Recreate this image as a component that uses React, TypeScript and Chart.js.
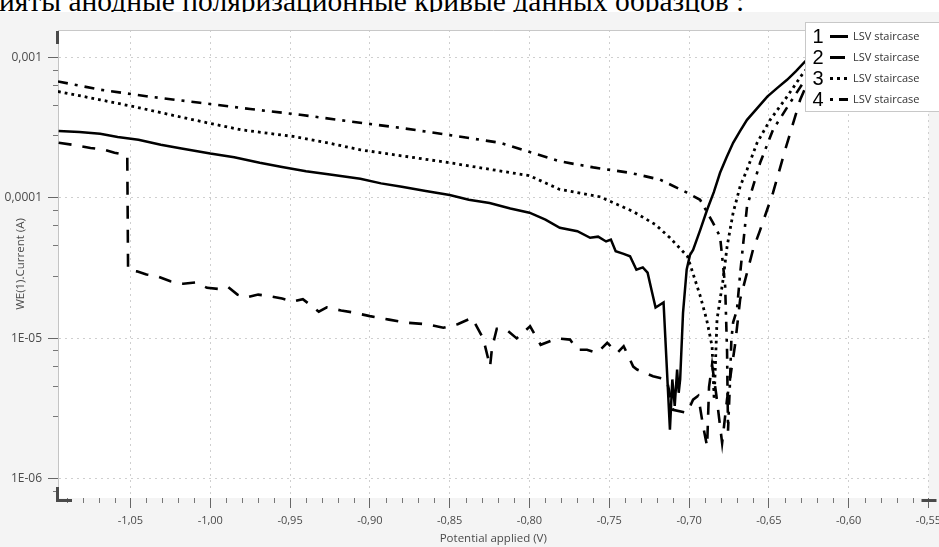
import React, { useEffect, useRef } from 'react';
import { Chart, registerables } from 'chart.js';

Chart.register(...registerables);

const headerText = 'ияты анодные поляризационные кривые данных образцов :';
const xAxisTitle = 'Potential applied (V)';
const yAxisTitle = 'WE(1).Current (A)';
const legendNumbers = ['1', '2', '3', '4'];
const seriesNames = ['LSV staircase', 'LSV staircase', 'LSV staircase', 'LSV staircase'];

const xTickValues = [-1.05, -1.0, -0.95, -0.9, -0.85, -0.8, -0.75, -0.7, -0.65, -0.6, -0.55];
const xTickLabels = ['-1,05', '-1,00', '-0,95', '-0,90', '-0,85', '-0,80', '-0,75', '-0,70', '-0,65', '-0,60', '-0,55'];
const yTickValues = [1e-6, 1e-5, 1e-4, 1e-3];
const yTickLabels = ['1E-06', '1E-05', '0,0001', '0,001'];
const yMinorFactors = [0.28, 0.46, 0.64, 0.82];
const xRange = [-1.0954, -0.55];
const yRange = [7.3e-7, 1.57e-3];

// Series 1 (solid)
const s1Potential = [-1.095, -1.082, -1.069, -1.058, -1.045, -1.031, -1.018, -1.0, -0.985, -0.969, -0.955, -0.94, -0.925, -0.906, -0.893, -0.88, -0.865, -0.85, -0.838, -0.825, -0.812, -0.8, -0.79, -0.781, -0.77, -0.762, -0.757, -0.752, -0.749, -0.746, -0.741, -0.737, -0.733, -0.729, -0.726, -0.7235, -0.721, -0.716, -0.712, -0.7105, -0.709, -0.7075, -0.7065, -0.7056, -0.7038, -0.7015, -0.6994, -0.6975, -0.693, -0.6887, -0.6845, -0.6806, -0.6765, -0.6724, -0.668, -0.6637, -0.657, -0.651, -0.6445, -0.6386, -0.633, -0.6273, -0.621];
const s1Current = [3.0e-4, 2.95e-4, 2.86e-4, 2.72e-4, 2.6e-4, 2.39e-4, 2.25e-4, 2.07e-4, 1.95e-4, 1.78e-4, 1.66e-4, 1.55e-4, 1.47e-4, 1.37e-4, 1.27e-4, 1.2e-4, 1.12e-4, 1.05e-4, 9.7e-5, 9.2e-5, 8.4e-5, 7.85e-5, 7.0e-5, 6.13e-5, 5.8e-5, 5.2e-5, 5.3e-5, 4.9e-5, 5.05e-5, 4.17e-5, 4.0e-5, 3.84e-5, 3.08e-5, 3.2e-5, 2.94e-5, 2.2e-5, 1.66e-5, 1.8e-5, 2.24e-6, 5.1e-6, 3.3e-6, 6.0e-6, 4.1e-6, 5.1e-6, 1.52e-5, 3.1e-5, 3.94e-5, 4.27e-5, 5.93e-5, 8.24e-5, 1.1e-4, 1.51e-4, 1.95e-4, 2.47e-4, 3.0e-4, 3.6e-4, 4.4e-4, 5.27e-4, 6.1e-4, 6.94e-4, 8.0e-4, 9.37e-4, 1.05e-3];

// Series 2 (long dash)
const s2Potential = [-1.095, -1.085, -1.075, -1.066, -1.06, -1.054, -1.052, -1.0515, -1.046, -1.04, -1.033, -1.025, -1.017, -1.009, -1.002, -0.995, -0.989, -0.983, -0.978, -0.97, -0.963, -0.955, -0.948, -0.942, -0.937, -0.932, -0.927, -0.918, -0.9105, -0.9, -0.888, -0.876, -0.864, -0.854, -0.845, -0.836, -0.829, -0.8247, -0.8235, -0.8205, -0.8143, -0.808, -0.7996, -0.793, -0.7825, -0.7746, -0.77, -0.764, -0.7576, -0.7513, -0.745, -0.741, -0.735, -0.7326, -0.7226, -0.714, -0.71, -0.7012, -0.6975, -0.6943, -0.6912, -0.6887, -0.6875, -0.6856, -0.683, -0.6793, -0.6762, -0.6712, -0.668, -0.6649, -0.6599, -0.6555, -0.6474, -0.6398, -0.6304, -0.621, -0.6116];
const s2Current = [2.47e-4, 2.38e-4, 2.27e-4, 2.2e-4, 2.1e-4, 2.03e-4, 2.0e-4, 3.08e-5, 3.0e-5, 2.85e-5, 2.76e-5, 2.55e-5, 2.45e-5, 2.5e-5, 2.29e-5, 2.25e-5, 2.33e-5, 2.05e-5, 1.95e-5, 2.05e-5, 2.0e-5, 1.92e-5, 1.83e-5, 1.9e-5, 1.72e-5, 1.55e-5, 1.66e-5, 1.58e-5, 1.53e-5, 1.44e-5, 1.36e-5, 1.29e-5, 1.26e-5, 1.19e-5, 1.26e-5, 1.4e-5, 1.0e-5, 6.3e-6, 8.5e-6, 1.17e-5, 1.15e-5, 1.0e-5, 1.22e-5, 9.0e-6, 1.0e-5, 9.8e-6, 8.3e-6, 8.3e-6, 7.87e-6, 9.3e-6, 7.87e-6, 8.8e-6, 6.3e-6, 6.0e-6, 5.37e-6, 5.1e-6, 3.1e-6, 2.95e-6, 3.66e-6, 3.9e-6, 2.37e-6, 1.7e-6, 4.5e-6, 6.5e-6, 4.0e-6, 1.8e-6, 3.7e-6, 9.0e-6, 1.9e-5, 2.6e-5, 4.3e-5, 5.9e-5, 1.09e-4, 2.2e-4, 5.0e-4, 8.9e-4, 1.34e-3];

// Series 3 (dotted)
const s3Potential = [-1.0954, -1.069, -1.047, -1.025, -1.003, -0.981, -0.948, -0.925, -0.906, -0.878, -0.85, -0.825, -0.8, -0.781, -0.756, -0.735, -0.721, -0.712, -0.701, -0.693, -0.689, -0.6856, -0.6843, -0.6825, -0.6806, -0.6787, -0.6762, -0.6724, -0.668, -0.6637, -0.6574, -0.6492, -0.6386, -0.6286, -0.621, -0.612];
const s3Current = [5.73e-4, 5.0e-4, 4.45e-4, 3.91e-4, 3.45e-4, 3.06e-4, 2.74e-4, 2.45e-4, 2.2e-4, 1.98e-4, 1.78e-4, 1.6e-4, 1.44e-4, 1.15e-4, 1.02e-4, 8.0e-5, 6.45e-5, 5.2e-5, 3.84e-5, 2.0e-5, 1.36e-5, 8.8e-6, 3.66e-6, 1.36e-5, 1.89e-5, 2.62e-5, 4.5e-5, 7.85e-5, 1.21e-4, 1.59e-4, 2.47e-4, 3.6e-4, 5.27e-4, 7.74e-4, 9.6e-4, 1.2e-3];

// Series 4 (dash-dot)
const s4Potential = [-1.0954, -1.069, -1.04, -1.0064, -0.975, -0.9437, -0.912, -0.8811, -0.85, -0.8184, -0.7808, -0.76, -0.737, -0.7182, -0.7013, -0.6931, -0.685, -0.6806, -0.6787, -0.6774, -0.6762, -0.6756, -0.6745, -0.6735, -0.6724, -0.67, -0.668, -0.6637, -0.6555, -0.6474, -0.6367, -0.6286, -0.618, -0.608];
const s4Current = [6.75e-4, 5.9e-4, 5.3e-4, 4.76e-4, 4.3e-4, 3.91e-4, 3.5e-4, 3.16e-4, 2.8e-4, 2.47e-4, 1.82e-4, 1.65e-4, 1.51e-4, 1.35e-4, 1.09e-4, 9.7e-5, 6.65e-5, 5.3e-5, 3.3e-5, 2.35e-5, 8.0e-6, 2.2e-6, 4.5e-6, 9.8e-6, 1.3e-5, 1.6e-5, 2.9e-5, 8.7e-5, 1.78e-4, 3.06e-4, 4.77e-4, 6.6e-4, 9.0e-4, 1.2e-3];

const zip = (xs: number[], ys: number[]) => xs.map((x, i) => ({ x, y: ys[i] }));

const lineStyles = [
  { dash: [] as number[], width: 2.5, legendDash: [] as number[], legendWidth: 3 },
  { dash: [13, 11], width: 2.6, legendDash: [15, 10], legendWidth: 3 },
  { dash: [2.8, 4], width: 2.8, legendDash: [3, 4], legendWidth: 3 },
  { dash: [10, 7, 3, 7], width: 2.6, legendDash: [3, 6, 9, 30], legendWidth: 3 },
];

const decorPlugin = {
  id: 'decor',
  beforeDraw(chart: any) {
    const { ctx, chartArea: a } = chart;
    ctx.save();
    ctx.fillStyle = '#ffffff';
    ctx.fillRect(a.left, a.top, a.right - a.left, a.bottom - a.top);
    ctx.restore();
  },
  afterDraw(chart: any) {
    const { ctx, chartArea: a, scales } = chart;
    const xs = scales.x;
    const ys = scales.y;
    ctx.save();
    ctx.strokeStyle = '#c8c8c8';
    ctx.lineWidth = 1;
    ctx.beginPath();
    ctx.moveTo(a.left, Math.round(a.top) + 0.5);
    ctx.lineTo(a.right, Math.round(a.top) + 0.5);
    ctx.stroke();
    ctx.strokeStyle = '#777777';
    ctx.beginPath();
    for (let k = Math.ceil(xs.min * 100); k <= Math.floor(xs.max * 100); k++) {
      if (k % 5 === 0) continue;
      const px = Math.round(xs.getPixelForValue(k / 100)) + 0.5;
      ctx.moveTo(px, a.bottom);
      ctx.lineTo(px, a.bottom + 5);
    }
    for (let e = -6; e <= -2; e++) {
      for (const f of yMinorFactors) {
        const v = f * Math.pow(10, e);
        if (v < ys.min || v > ys.max) continue;
        const py = Math.round(ys.getPixelForValue(v)) + 0.5;
        ctx.moveTo(a.left - 5, py);
        ctx.lineTo(a.left, py);
      }
    }
    ctx.stroke();
    ctx.fillStyle = '#4a4a4a';
    ctx.fillRect(a.left - 2, a.top + 1, 3, 13);
    ctx.fillRect(a.left - 2, a.bottom - 11, 3, 13);
    ctx.fillRect(a.left - 2, a.bottom + 1, 16, 3);
    ctx.fillRect(a.right - 7, a.bottom + 1, 15, 3);
    const bx = 805.5;
    const by = 10.5;
    ctx.fillStyle = '#ffffff';
    ctx.fillRect(bx, by, 200, 89);
    ctx.strokeStyle = '#c8c8c8';
    ctx.strokeRect(bx, by, 200, 89);
    for (let i = 0; i < legendNumbers.length; i++) {
      const cy = 24 + i * 21;
      ctx.fillStyle = '#000000';
      ctx.font = '20px "Liberation Sans", Arial, sans-serif';
      ctx.textAlign = 'center';
      ctx.textBaseline = 'middle';
      ctx.fillText(legendNumbers[i], 818, cy + 1);
      ctx.strokeStyle = '#000000';
      ctx.lineWidth = lineStyles[i].legendWidth;
      ctx.setLineDash(lineStyles[i].legendDash);
      ctx.beginPath();
      ctx.moveTo(830, cy + 0.5);
      ctx.lineTo(848, cy + 0.5);
      ctx.stroke();
      ctx.setLineDash([]);
      ctx.fillStyle = '#333333';
      ctx.font = '11px "Open Sans", sans-serif';
      ctx.textAlign = 'left';
      ctx.fillText(seriesNames[i], 853, cy + 1);
    }
    ctx.restore();
  },
};

export default function App() {
  const canvasRef = useRef<HTMLCanvasElement | null>(null);

  useEffect(() => {
    if (!canvasRef.current) return;
    const series = [
      zip(s1Potential, s1Current),
      zip(s2Potential, s2Current),
      zip(s3Potential, s3Current),
      zip(s4Potential, s4Current),
    ];
    const chart = new Chart(canvasRef.current, {
      type: 'line',
      data: {
        datasets: series.map((d, i) => ({
          label: `${legendNumbers[i]} ${seriesNames[i]}`,
          data: d,
          borderColor: '#000000',
          borderWidth: lineStyles[i].width,
          borderDash: lineStyles[i].dash,
          pointRadius: 0,
          tension: 0,
          fill: false,
        })),
      },
      options: {
        animation: false,
        responsive: true,
        maintainAspectRatio: false,
        parsing: false,
        layout: { padding: { top: 18, right: 31.5, left: 0, bottom: 0 } },
        plugins: { legend: { display: false }, tooltip: { enabled: false } },
        scales: {
          x: {
            type: 'linear',
            min: xRange[0],
            max: xRange[1],
            afterBuildTicks: (scale: any) => {
              scale.ticks = xTickValues.map((v) => ({ value: v }));
            },
            afterFit: (scale: any) => {
              scale.height = 49;
            },
            ticks: {
              autoSkip: false,
              maxRotation: 0,
              includeBounds: false,
              padding: 6,
              color: '#4a4a4a',
              font: { family: '"Open Sans", sans-serif', size: 11 },
              callback: (value: any) => {
                const idx = xTickValues.findIndex((v) => Math.abs(v - value) < 1e-6);
                return idx >= 0 ? xTickLabels[idx] : '';
              },
            },
            grid: {
              color: '#cfcfcf',
              lineWidth: 1,
              tickColor: '#666666',
              tickLength: 10,
              drawTicks: true,
            },
            border: { display: false, dash: [2, 4] },
            title: {
              display: true,
              text: xAxisTitle,
              color: '#4a4a4a',
              font: { family: '"Open Sans", sans-serif', size: 11.5 },
              padding: { top: 0, bottom: 1 },
            },
          },
          y: {
            type: 'logarithmic',
            min: yRange[0],
            max: yRange[1],
            afterBuildTicks: (scale: any) => {
              scale.ticks = yTickValues.map((v) => ({ value: v }));
            },
            afterFit: (scale: any) => {
              scale.width = 58;
            },
            ticks: {
              autoSkip: false,
              padding: 6,
              color: '#4a4a4a',
              font: { family: '"Open Sans", sans-serif', size: 12 },
              callback: (value: any) => {
                const idx = yTickValues.findIndex((v) => Math.abs(v - value) / v < 1e-6);
                return idx >= 0 ? yTickLabels[idx] : '';
              },
            },
            grid: {
              color: '#cfcfcf',
              lineWidth: 1,
              tickColor: '#666666',
              tickLength: 10,
              drawTicks: true,
            },
            border: { display: true, color: '#c4c4c4', width: 1, dash: [2, 4] },
            title: {
              display: true,
              text: yAxisTitle,
              color: '#4a4a4a',
              font: { family: '"Open Sans", sans-serif', size: 11.5 },
              padding: { top: 14, bottom: 0 },
            },
          },
        },
      },
      plugins: [decorPlugin],
    } as any);
    return () => chart.destroy();
  }, []);

  return (
    <div style={{ position: 'absolute', left: 0, top: 0, width: 939, height: 547, overflow: 'hidden', background: '#ffffff' }}>
      <div style={{ position: 'absolute', left: 0, top: 0, width: 939, height: 12, overflow: 'hidden' }}>
        <div
          style={{
            position: 'absolute',
            left: -1,
            top: -13,
            whiteSpace: 'nowrap',
            fontFamily: '"Liberation Serif", "Times New Roman", serif',
            fontSize: 29.5,
            lineHeight: '29px',
            color: '#000000',
          }}
        >
          {headerText}
        </div>
      </div>
      <div style={{ position: 'absolute', left: 0, top: 12, width: 960, height: 535, background: '#f4f4f4' }}>
        <canvas ref={canvasRef} style={{ width: 960, height: 535 }} />
      </div>
    </div>
  );
}
